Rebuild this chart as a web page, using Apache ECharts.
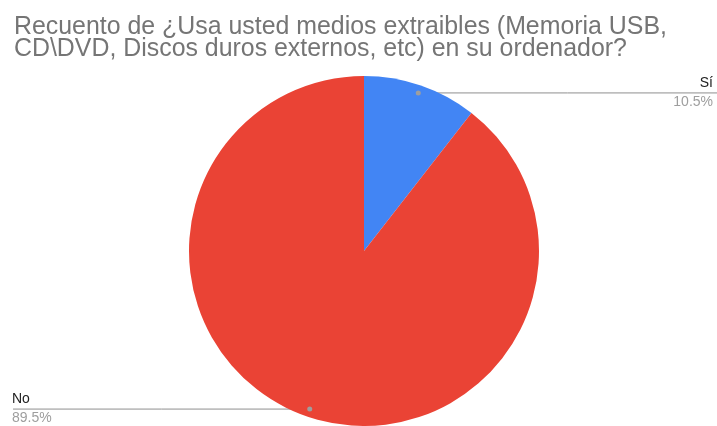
<!DOCTYPE html>
<html><head><meta charset="utf-8">
<script src="https://cdn.jsdelivr.net/npm/echarts@6/dist/echarts.min.js"></script>
<style>html,body{margin:0;padding:0;background:#fff}#c{width:717px;height:426px}</style>
</head><body><div id="c"></div>
<script>
const titleText = 'Recuento de ¿Usa usted medios extraibles (Memoria USB,\nCD\\DVD, Discos duros externos, etc) en su ordenador?';
const categories = ['Sí', 'No'];
const counts = [2, 17];
const colors = ['#4285F4', '#EA4335'];

const chart = echarts.init(document.getElementById('c'), null, {renderer: 'canvas'});
const W = 717, H = 426;
const cx = 364, cy = 251, R = 175;
const total = counts.reduce((a, b) => a + b, 0);
const mids = [];
let acc = 0;
counts.forEach(v => { mids.push((acc + v / 2) / total * 2 * Math.PI); acc += v; });
const dotPts = mids.map(a => [cx + 0.955 * R * Math.sin(a), cy - 0.955 * R * Math.cos(a)]);
const FF = 'Liberation Sans, Arial, sans-serif';

chart.setOption({
  animation: false,
  title: {
    text: titleText, left: 9, top: 11,
    textStyle: {fontFamily: FF, fontSize: 24.9, fontWeight: 'normal', color: '#757575', lineHeight: 22}
  },
  graphic: dotPts.map(p => ({type: 'circle', shape: {cx: p[0], cy: p[1], r: 2.5}, style: {fill: '#9e9e9e'}, z: 100})),
  series: [{
    type: 'pie',
    center: [cx, cy], radius: [0, R],
    startAngle: 90, clockwise: true,
    percentPrecision: 1,
    data: categories.map((n, i) => ({name: n, value: counts[i], itemStyle: {color: colors[i]}})),
    itemStyle: {borderWidth: 0},
    label: {
      show: true,
      formatter: p => '{n|' + p.name + '}\n{p|' + p.percent.toFixed(1) + '%}',
      rich: {
        n: {fontFamily: FF, fontSize: 14, color: '#222', lineHeight: 19},
        p: {fontFamily: FF, fontSize: 14, color: '#9e9e9e', lineHeight: 19}
      }
    },
    labelLine: {show: true, lineStyle: {color: '#8f8f8f', width: 1}},
    labelLayout: function (params) {
      const i = params.dataIndex;
      const p = dotPts[i];
      const right = Math.sin(mids[i]) >= 0;
      const ex = right ? W : 13;
      return {
        x: right ? W - 4 : 12,
        y: p[1] - 0.5,
        align: right ? 'right' : 'left',
        verticalAlign: 'middle',
        labelLinePoints: [[p[0], p[1]], [(p[0] + ex) / 2, p[1]], [ex, p[1]]]
      };
    }
  }]
});
</script></body></html>
